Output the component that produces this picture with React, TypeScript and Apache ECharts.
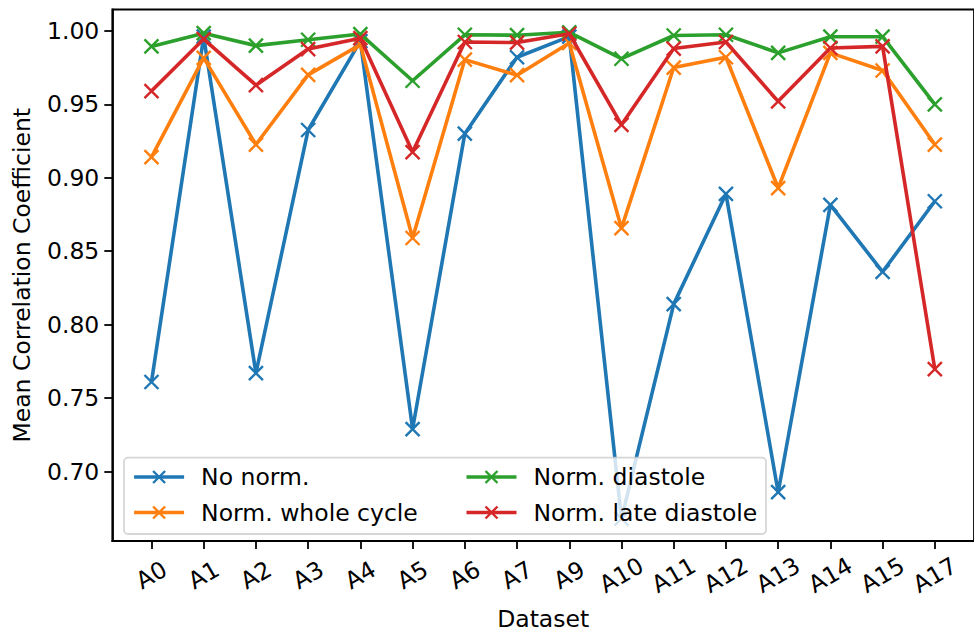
import React, { useEffect, useRef } from "react";
import * as echarts from "echarts";

const categories = ["A0", "A1", "A2", "A3", "A4", "A5", "A6", "A7", "A9", "A10", "A11", "A12", "A13", "A14", "A15", "A17"];

const noNorm = [0.761, 0.996, 0.767, 0.9325, 0.993, 0.729, 0.930, 0.982, 0.996, 0.668, 0.814, 0.889, 0.686, 0.8815, 0.836, 0.884];
const normWholeCycle = [0.914, 0.9816, 0.9226, 0.970, 0.9906, 0.859, 0.9804, 0.9698, 0.9917, 0.8657, 0.975, 0.982, 0.893, 0.985, 0.973, 0.9226];
const normDiastole = [0.9894, 0.9984, 0.9899, 0.9939, 0.9978, 0.966, 0.9973, 0.997, 0.999, 0.981, 0.9968, 0.9973, 0.985, 0.996, 0.996, 0.950];
const normLateDiastole = [0.959, 0.9944, 0.963, 0.9876, 0.995, 0.9175, 0.9924, 0.992, 0.998, 0.936, 0.9879, 0.9924, 0.952, 0.9883, 0.9894, 0.7697];

const seriesNames = ["No norm.", "Norm. whole cycle", "Norm. diastole", "Norm. late diastole"];
const seriesValues = [noNorm, normWholeCycle, normDiastole, normLateDiastole];
const colors = ["#1f77b4", "#ff7f0e", "#2ca02c", "#d62728"];
const yTicks = [0.7, 0.75, 0.8, 0.85, 0.9, 0.95, 1.0];

const FONT = "DejaVu Sans";
const FS = 23.5;

export default function App() {
  const ref = useRef<HTMLDivElement>(null);
  useEffect(() => {
    if (!ref.current) return;
    const chart = echarts.init(ref.current, null, { renderer: "svg" });
    const xIdx = categories.map((_, i) => i);
    const series = seriesValues.map((vals, s) => ({
      name: seriesNames[s],
      type: "line",
      data: vals.map((v, i) => [i, v]),
      symbol: "path://M0,0L10,10M10,0L0,10",
      symbolSize: 14,
      showAllSymbol: true,
      lineStyle: { color: colors[s], width: 3.6 },
      itemStyle: { color: colors[s], borderColor: colors[s], borderWidth: 2.4 },
      z: 2 + s,
      emphasis: { disabled: true },
    }));
    const legendCommon = {
      orient: "vertical",
      padding: 0,
      itemWidth: 50,
      itemHeight: 15,
      itemGap: 11.5,
      selectedMode: false,
      z: 20,
      lineStyle: { width: 3.6 },
      itemStyle: { borderWidth: 2.4 },
      textStyle: { fontFamily: FONT, fontSize: FS, color: "#000", padding: [0, 0, 0, 12] },
    };
    chart.setOption({
      animation: false,
      backgroundColor: "#fff",
      grid: {
        left: 112.3, right: -6, top: 9.5, bottom: 90.5,
        show: true, borderColor: "#000", borderWidth: 1.8, backgroundColor: "transparent",
      },
      xAxis: {
        type: "value",
        min: -0.75,
        max: 15.75,
        name: "Dataset",
        nameLocation: "middle",
        nameGap: 78,
        nameTextStyle: { fontFamily: FONT, fontSize: FS, color: "#000", verticalAlign: "middle" },
        axisLine: { show: true, onZero: false, lineStyle: { color: "#000", width: 1.8 } },
        axisTick: { show: true, length: 8, lineStyle: { color: "#000", width: 1.8 }, customValues: xIdx },
        axisLabel: {
          customValues: xIdx,
          formatter: (v: number) => categories[Math.round(v)] ?? "",
          rotate: 30,
          align: "center",
          verticalAlign: "middle",
          margin: 34,
          fontFamily: FONT,
          fontSize: FS,
          color: "#000",
        },
        splitLine: { show: false },
      },
      yAxis: {
        type: "value",
        min: 0.6528,
        max: 1.0145,
        name: "Mean Correlation Coefficient",
        nameLocation: "middle",
        nameGap: 90,
        nameTextStyle: { fontFamily: FONT, fontSize: FS, color: "#000", verticalAlign: "middle" },
        axisLine: { show: true, onZero: false, lineStyle: { color: "#000", width: 1.8 } },
        axisTick: { show: true, length: 8, lineStyle: { color: "#000", width: 1.8 }, customValues: yTicks },
        axisLabel: {
          customValues: yTicks,
          formatter: (v: number) => v.toFixed(2),
          margin: 13,
          fontFamily: FONT,
          fontSize: FS,
          color: "#000",
        },
        splitLine: { show: false },
      },
      legend: [
        { ...legendCommon, left: 132.3, top: 465, data: [seriesNames[0], seriesNames[1]] },
        { ...legendCommon, left: 464.7, top: 465, data: [seriesNames[2], seriesNames[3]] },
      ],
      graphic: [
        {
          type: "rect",
          z: 10,
          shape: { x: 124, y: 457.7, width: 642, height: 76.3, r: 4 },
          style: { fill: "rgba(255,255,255,0.8)", stroke: "rgba(204,204,204,0.8)", lineWidth: 1.8 },
        },
      ],
      series,
    });
    return () => chart.dispose();
  }, []);
  return <div ref={ref} style={{ position: "absolute", left: 0, top: 0, width: 974, height: 636 }} />;
}
